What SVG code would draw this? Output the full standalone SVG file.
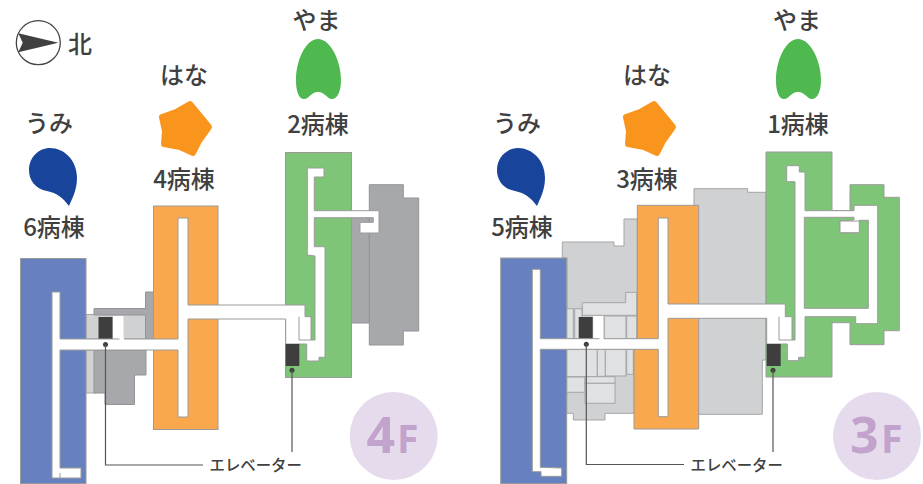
<svg xmlns="http://www.w3.org/2000/svg" width="923" height="484" viewBox="0 0 923 484">
<style>
text{font-family:"Noto Sans CJK JP","Noto Sans",sans-serif;fill:#404040;text-anchor:middle;font-weight:500}
.l{font-size:24px}
.ev{font-size:15.4px;text-anchor:start}
.w{stroke:#9a9a9a;stroke-width:1}
.blue{fill:#6680c0}.orange{fill:#f9a84d}.green{fill:#7fc578}
.dk{fill:#a7a8ab;stroke:#939496;stroke-width:1}
.lt{fill:#d0d1d3;stroke:#a4a5a7;stroke-width:1}
.rm{fill:#e0e1e3;stroke:#a4a5a7;stroke-width:1}
.cor{fill:#fff;stroke:#9a9a9a;stroke-width:1}
.lift{fill:#3e3e3e}
.lead{fill:none;stroke:#555;stroke-width:1.2}
.badge{fill:#e6dbec}
text.big{font-family:"Noto Sans",sans-serif;font-weight:700;fill:#c2a3cc;text-anchor:start}
</style>
<defs>
<path id="drop" fill="#19449b" d="M50 148C64 148 77 160 77 178C77 190 72 199 69 206C63 198 57 193 47 191C35 189 29 180 29 170C29 157 39 148 50 148Z"/>
<polygon id="star" fill="#f9951d" stroke="#f9951d" stroke-width="6" stroke-linejoin="round" points="190,104 209,127 199,141 193,153 180,147 164,144 165,131 162,117 176,112"/>
<path id="leaf" fill="#4fb84f" d="M318 39C330 39 341 60 341 80C341 92 337 99 332 99C327 99 325 92 318 92C311 92 309 99 304 99C299 99 296 92 296 80C296 60 306 39 318 39Z"/>
</defs>

<g id="compass">
<circle cx="38.3" cy="42.7" r="22" fill="#fff" stroke="#444" stroke-width="1.3"/>
<polygon points="58.3,42.7 18.3,33.3 22.7,42.7 18.3,52.3" fill="#404040"/>
<text class="l" x="80" y="53">北</text>
</g>

<g id="floor4-other">
<rect class="lt" x="86" y="314.5" width="60" height="24.5"/>
<rect class="lt" x="86" y="350" width="10" height="43"/>
<path class="dk" d="M94 308.5H145.5V292H153.5V339H145.5V315H94Z"/>
<path class="dk" d="M94 350H146V375H134.5V404.5H105V393H94Z"/>
<rect x="113" y="316" width="10.500" height="23" fill="#fff"/>
<rect class="lift" x="98.500" y="317" width="14" height="22"/>
<rect class="dk" x="351.300" y="217.700" width="18" height="105.300"/>
<path class="dk" d="M369.300 184.700H403.300V198H418.700V331H403.300V345H369.300Z"/>
</g>

<g id="ward-6">
<rect class="blue w" x="20.500" y="258.500" width="65.500" height="225"/>
<use href="#drop"/>
<text class="l" x="49" y="132">うみ</text>
<text class="l" x="54" y="236">6病棟</text>
</g>
<g id="ward-4">
<rect class="orange w" x="153.500" y="206" width="64.500" height="223.500"/>
<use href="#star"/>
<text class="l" x="184" y="84">はな</text>
<text class="l" x="184" y="188">4病棟</text>
</g>
<g id="ward-2">
<rect class="green w" x="285.500" y="152.500" width="66" height="225"/>
<use href="#leaf"/>
<text class="l" x="316.500" y="29">やま</text>
<text class="l" x="318" y="133">2病棟</text>
</g>

<g id="floor4-corridor">
<path class="cor" d="M52 292H60V339H178V218H188V305H305V316.700H311V340H315V256L307.300 255V168H324V177H314.300V210.700H379V233H360V222.300H373.300V217.700H314.300V246.700H325V357.300H319V361H306.700V344H285.700V319H188V417H178V350H60V468H81V478H52Z"/>
<path fill="none" stroke="#9a9a9a" d="M299 316.700V340H311M60 473V478"/>
<rect x="119.500" y="338" width="4.500" height="3" fill="#fff"/>
<rect class="lift" x="285.700" y="344" width="13.600" height="22"/>
</g>

<g id="floor3-other">
<path class="lt" d="M562.300 242H614V246H624V219H637.300V339H567V258H562.300Z"/>
<path class="rm" d="M582.300 302.700H625.700V292.300H636.700V315.300H582.300Z"/>
<rect class="rm" x="566.700" y="308.700" width="6.600" height="30"/>
<rect class="rm" x="574.700" y="308.700" width="7.300" height="30"/>
<rect class="rm" x="604.300" y="316" width="21.700" height="23"/>
<rect class="rm" x="626.700" y="316" width="10" height="23"/>
<rect x="593.300" y="316" width="10" height="23" fill="#fff"/>
<rect class="lift" x="578.700" y="317" width="14" height="22"/>
<path class="lt" d="M566.700 349.300H634V413.300H605V420H573.300V413.300H566.700Z"/>
<rect class="rm" x="566.700" y="349.300" width="30.600" height="27.400"/>
<rect class="rm" x="597.300" y="349.300" width="8" height="27"/>
<rect class="rm" x="605.300" y="349.300" width="20.700" height="26.700"/>
<rect class="rm" x="626.700" y="349.300" width="6.600" height="25"/>
<rect class="rm" x="566.700" y="377" width="18.300" height="15.300"/>
<rect class="rm" x="585" y="376.700" width="30" height="6.600"/>
<rect class="rm" x="585" y="383.300" width="30" height="20"/>
<path class="lt" d="M694 188.700H747.700V192.300H766V360H762.300V414.300H694Z"/>
</g>

<g id="ward-5">
<rect class="blue w" x="500.700" y="258" width="66" height="225.500"/>
<use href="#drop" x="468"/>
<text class="l" x="517" y="132">うみ</text>
<text class="l" x="522" y="236">5病棟</text>
</g>
<g id="ward-3">
<path class="orange w" d="M637.300 205.300H698.700V429H634V349.300H637.300Z"/>
<use href="#star" x="464"/>
<text class="l" x="647" y="84">はな</text>
<text class="l" x="647" y="188">3病棟</text>
</g>
<g id="ward-1">
<path class="green w" d="M766 152H832V210.700H850V184.700H884V197.300H899.300V330.700H884V344.700H850V322.700H832V377H766Z"/>
<use href="#leaf" x="480"/>
<text class="l" x="797" y="29">やま</text>
<text class="l" x="798" y="133">1病棟</text>
</g>

<g id="floor3-corridor">
<path class="cor" d="M532.300 269.300H540.300V338.700H658.300V218H668V304H785.300V316.700H792V340H795V181.700H786.700V165.700H799.300V172H805V210.700H854V205.300H877.700V323.700H855.700V316.700H805V357.300H798.700V360.700H787.300V344H766.700V318.300H668V416.700H658.300V349.300H540.300V467.300L561.700 468V476.300H541V471.700H532.300Z"/>
<path class="green w" d="M804.300 217.300H854V220L840 221V232.700H859.300V220.300H868.300V308.300H804.300Z"/>
<path fill="#fff" stroke="#9a9a9a" d="M840 221H859.300V232.700H840Z"/>
<path fill="none" stroke="#9a9a9a" d="M779 316.700V340H792"/>
<rect x="599.500" y="337.500" width="4" height="3" fill="#fff"/>
<rect class="lift" x="766.700" y="344" width="14" height="22"/>
</g>

<g id="connectors">
<circle cx="105.500" cy="344.500" r="2.500" fill="#404040"/>
<path class="lead" d="M105.500 344.500V465H203"/>
<circle cx="292" cy="370.300" r="2.500" fill="#404040"/>
<path class="lead" d="M292 370.300V452"/>
<circle cx="586.300" cy="344.300" r="2.500" fill="#404040"/>
<path class="lead" d="M586.300 344.300V464.500H684"/>
<circle cx="773" cy="370.300" r="2.500" fill="#404040"/>
<path class="lead" d="M773 370.300V452"/>
</g>

<g id="elevator-label-4f"><text class="ev" x="209.500" y="471">エレベーター</text></g>
<g id="elevator-label-3f"><text class="ev" x="690.500" y="471">エレベーター</text></g>

<g id="badge-4f">
<circle class="badge" cx="393.700" cy="436" r="44"/>
<text class="big" x="366.500" y="453" font-size="50">4</text>
<text class="big" x="397" y="453" font-size="39">F</text>
</g>
<g id="badge-3f">
<circle class="badge" cx="877" cy="436" r="44"/>
<text class="big" x="850" y="453" font-size="50">3</text>
<text class="big" x="881" y="453" font-size="39">F</text>
</g>
</svg>
